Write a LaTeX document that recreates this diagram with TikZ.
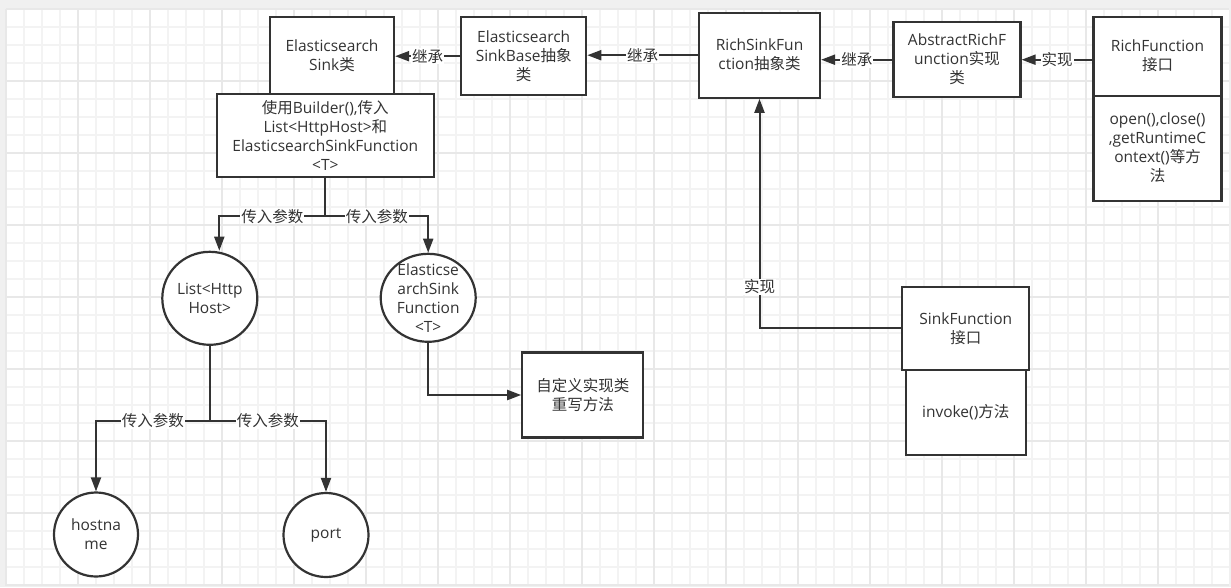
\documentclass[tikz,border=0pt]{standalone}
\usepackage{fontspec}
\setmainfont{Open Sans}
\newfontfamily\cjkfont{Noto Sans CJK SC}
\newcommand{\zh}[1]{{\cjkfont #1}}
\newcommand{\diagfont}{\fontsize{15.5}{19}\selectfont}
\usetikzlibrary{arrows.meta,shapes.geometric,calc}
\definecolor{ink}{HTML}{333333}
\definecolor{txtc}{HTML}{333333}
\definecolor{gridminor}{HTML}{F3F3F3}
\definecolor{gridmajor}{HTML}{E8E8E8}
\definecolor{outerbg}{HTML}{F0F0F0}
\begin{document}
\begin{tikzpicture}[x=1pt,y=-1pt,
  box/.style={draw=ink, line width=2.2pt, fill=white, rectangle, inner sep=2pt, align=center, text=txtc, font=\diagfont},
  ell/.style={draw=ink, line width=2.2pt, fill=white, ellipse, inner sep=0pt},
  etext/.style={align=center, text=txtc, font=\diagfont, inner sep=0pt},
  conn/.style={draw=ink, line width=2pt},
  arr/.style={conn, -{Triangle[length=14pt,width=10pt]}},
  lbl/.style={fill=white, inner sep=1pt, text=txtc, font=\diagfont},
  gmin/.style={draw=gridminor, line width=1.1pt},
  gmaj/.style={draw=gridmajor, line width=1.1pt}
]
\useasboundingbox (0,0) rectangle (1231,587);
% background and grid
\fill[outerbg] (0,0) rectangle (1231,587);
\fill[white] (6,9) rectangle (1229,586);
\foreach \x in {6,24,...,1228} \draw[gmin] (\x,9) -- (\x,586);
\foreach \y in {9,27,...,585} \draw[gmin] (6,\y) -- (1229,\y);
\foreach \x in {6,78,...,1228} \draw[gmaj] (\x,9) -- (\x,586);
\foreach \y in {9,81,...,585} \draw[gmaj] (6,\y) -- (1229,\y);

% nodes
\node[box, minimum width=124pt, minimum height=78pt] (es) at (332,55.8) {Elasticsearch\\Sink\zh{类}};
\node[box, minimum width=217pt, minimum height=83pt] (builder) at (325.3,135.8)
  {\zh{使用}Builder(),\zh{传入}\\List<HttpHost>\zh{和}\\ElasticsearchSinkFunction\\<T>};
\node[box, minimum width=125pt, minimum height=78pt] (esb) at (523.7,56.2) {Elasticsearch\\SinkBase\zh{抽象}\\\zh{类}};
\node[box, minimum width=121pt, minimum height=85pt] (rsf) at (759.5,55.2) {RichSinkFun\\ction\zh{抽象类}};
\node[box, minimum width=127pt, minimum height=75pt] (arf) at (957,59.7) {AbstractRichF\\unction\zh{实现}\\\zh{类}};
\node[box, minimum width=128pt, minimum height=79pt] (rf) at (1157.5,56.2) {RichFunction\\\zh{接口}};
\node[box, minimum width=128pt, minimum height=105pt] (rfm) at (1157.5,148.2) {open(),close()\\,getRuntimeC\\ontext()\zh{等方}\\\zh{法}};
\node[box, minimum width=127pt, minimum height=83pt] (sf) at (965.8,328.3) {SinkFunction\\\zh{接口}};
\node[box, minimum width=120pt, minimum height=85pt] (inv) at (965.7,412.5) {invoke()\zh{方法}};
\node[box, minimum width=121pt, minimum height=85pt] (custom) at (582.8,395) {\zh{自定义实现类}\\\zh{重写方法}};

\node[ell, minimum width=95pt, minimum height=93pt,
  label={[etext]center:List<Http\\Host>}] (list) at (209.8,298.3) {};
\node[ell, minimum width=95pt, minimum height=88pt,
  label={[etext]center:Elasticse\\archSink\\Function\\<T>}] (esf) at (428.2,297.8) {};
\node[ell, minimum width=84pt, minimum height=84pt,
  label={[etext]center:hostna\\me}] (host) at (96,534.5) {};
\node[ell, minimum width=85pt, minimum height=84pt,
  label={[etext]center:port}] (port) at (326,535) {};

% connectors
\draw[arr] (esb.west) -- (esb.west -| es.east) node[midway,lbl] {\zh{继承}};
\draw[arr] (rsf.west) -- (rsf.west -| esb.east) node[midway,lbl] {\zh{继承}};
\draw[arr] (arf.west) -- (arf.west -| rsf.east) node[midway,lbl] {\zh{继承}};
\draw[arr] (arf.east -| rf.west) -- (arf.east) node[midway,lbl] {\zh{实现}};
\draw[arr] (sf.west) -| (rsf.south) node[pos=0.59,lbl] {\zh{实现}};

\draw[arr] (builder.south) -- ++(0,37.7) coordinate (split1) -| ([xshift=9.5pt]list.north) node[pos=0.25,lbl] {\zh{传入参数}};
\draw[arr] (split1) -| (esf.north) node[pos=0.25,lbl] {\zh{传入参数}};

\draw[arr] (list.south) -- ++(0,74.8) coordinate (split2) -| (host.north) node[pos=0.25,lbl] {\zh{传入参数}};
\draw[arr] (split2) -| (port.north) node[pos=0.25,lbl] {\zh{传入参数}};

\draw[arr] (esf.south) |- (custom.west);
\end{tikzpicture}
\end{document}
